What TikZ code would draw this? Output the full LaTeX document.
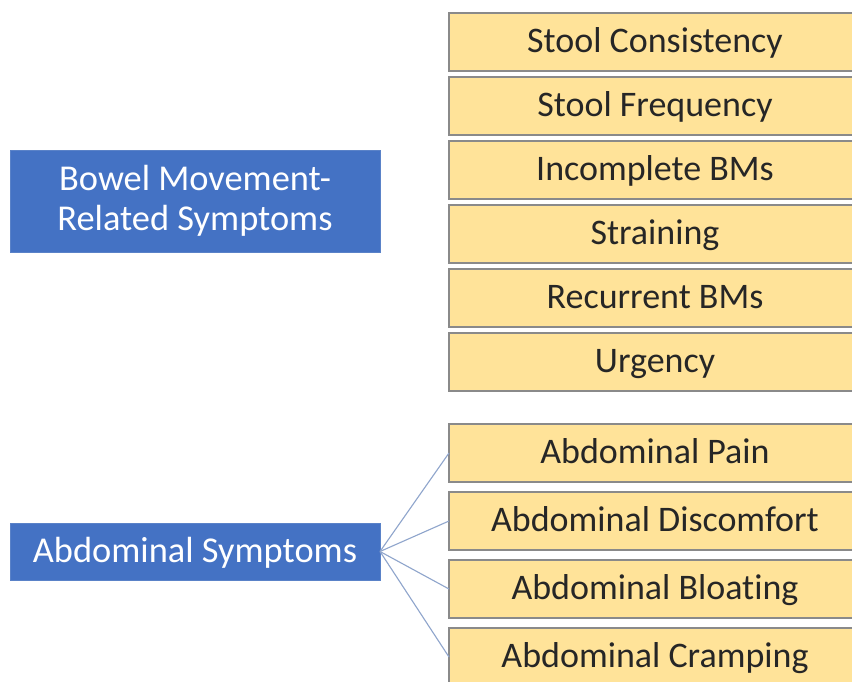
\documentclass[tikz,border=0pt]{standalone}
\usepackage{fontspec}
\setmainfont[Ligatures=NoCommon]{Carlito}
\usepackage{tikz}
\usetikzlibrary{positioning}
\usepackage{xcolor}
\definecolor{Cobalt}{HTML}{4472C4}
\definecolor{CobaltEdge}{HTML}{5A82C8}
\definecolor{Butter}{HTML}{FFE399}
\definecolor{Pewter}{HTML}{8A8A8A}
\definecolor{Ink}{HTML}{262626}
\definecolor{Wire}{HTML}{8FA5CC}
\tikzset{
  group/.style={draw=CobaltEdge, fill=Cobalt, line width=0.6pt, text=white, align=center, inner sep=0pt, outer sep=0pt, minimum width=3.70in, font=\fontsize{26.3}{28.8}\selectfont},
  item/.style={draw=Pewter, fill=Butter, line width=0.9pt, text=Ink, align=center, inner sep=0pt, outer sep=0pt, minimum width=4.12in, minimum height=0.58in, text height=19.5pt, text depth=4pt, font=\fontsize{26}{28}\selectfont},
  wire/.style={draw=Wire, line width=0.8pt}
}

\begin{document}
\begin{tikzpicture}
\fill[white] (0,0) rectangle (8.52in,-6.81in);
\useasboundingbox (0,0) rectangle (8.52in,-6.81in);
% bowel movement group
\node[item] (consist) at (6.55in,-0.42in) {Stool Consistency};
\node[item, below=0.06in of consist] (freq) {Stool Frequency};
\node[item, below=0.06in of freq] (incompl) {Incomplete BMs};
\node[item, below=0.06in of incompl] (strain) {Straining};
\node[item, below=0.06in of strain] (recur) {Recurrent BMs};
\node[item, below=0.06in of recur] (urgency) {Urgency};
\node[group, minimum height=1.02in] (bmgroup) at (1.95in,-2.01in) {Bowel Movement-\\Related Symptoms};
% abdominal group
\node[item, below=0.33in of urgency] (pain) {Abdominal Pain};
\node[item, below=0.10in of pain] (discomf) {Abdominal Discomfort};
\node[item, below=0.10in of discomf] (bloat) {Abdominal Bloating};
\node[item, below=0.10in of bloat] (cramp) {Abdominal Cramping};
\node[group, minimum height=0.57in, text height=19.5pt, text depth=4pt] (abdgroup) at (1.95in,-5.515in) {Abdominal Symptoms};
\foreach \n in {pain,discomf,bloat,cramp} \draw[wire] (abdgroup.east) -- (\n.west);
\end{tikzpicture}
\end{document}
